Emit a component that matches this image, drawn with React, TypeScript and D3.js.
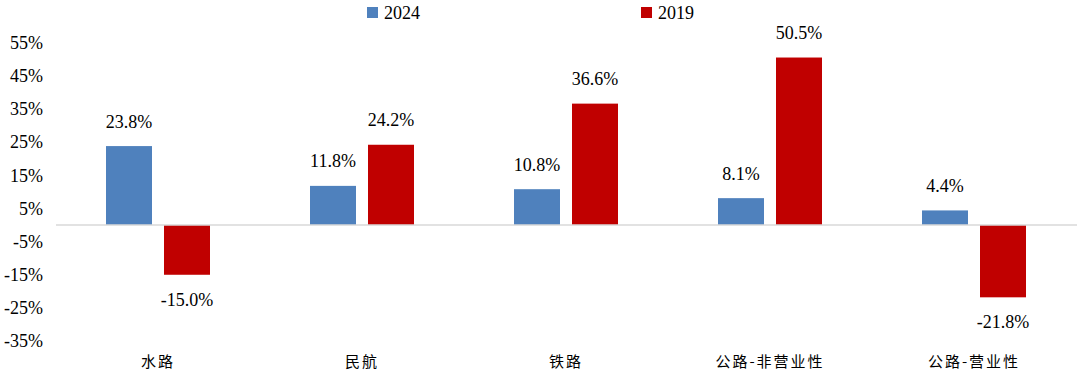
import React from "react";
import * as d3 from "d3";

const categories = ["水路", "民航", "铁路", "公路-非营业性", "公路-营业性"];
const series2024 = [23.8, 11.8, 10.8, 8.1, 4.4];
const series2019 = [-15.0, 24.2, 36.6, 50.5, -21.8];
const seriesNames = ["2024", "2019"];
const colors = ["#4F81BD", "#C00000"];
const yTicks = [55, 45, 35, 25, 15, 5, -5, -15, -25, -35];

const W = 1080;
const H = 375;

export default function App() {
  const x0 = d3.scaleBand<string>().domain(categories).range([56, 1076]).paddingInner(0).paddingOuter(0);
  const x1 = d3.scaleBand<string>().domain(seriesNames).range([50, 154]).paddingInner(12 / 58).paddingOuter(0);
  const y = d3.scaleLinear().domain([-35, 55]).range([341.1, 42.6]);
  const data = [series2024, series2019];
  const serifStyle = { fontFamily: '"Liberation Serif", serif' };
  const cjkStyle = { fontFamily: '"Noto Sans CJK SC", sans-serif' };

  return (
    <svg width={W} height={H} style={{ position: "absolute", left: 0, top: 0, background: "#fff" }}>
      {/* legend */}
      {seriesNames.map((s, i) => {
        const lx = i === 0 ? 367 : 641;
        return (
          <g key={s}>
            <rect x={lx} y={7} width={11} height={11} fill={colors[i]} />
            <text x={lx + 17} y={18.5} style={serifStyle} fontSize={18} fill="#000">{s}</text>
          </g>
        );
      })}
      {/* y tick labels */}
      {yTicks.map((t) => (
        <text key={t} x={43} y={y(t)} dy="0.35em" textAnchor="end" style={serifStyle} fontSize={18} fill="#000">
          {t}%
        </text>
      ))}
      {/* bars */}
      {categories.map((c, ci) => (
        <g key={c} transform={`translate(${x0(c)},0)`}>
          {seriesNames.map((s, si) => {
            const v = data[si][ci];
            const bx = x1(s)!;
            const top = y(Math.max(0, v));
            const bot = y(Math.min(0, v));
            const ly = v >= 0 ? top - 18.5 : bot + 31;
            return (
              <g key={s}>
                <rect x={bx} y={top} width={x1.bandwidth()} height={bot - top} fill={colors[si]} />
                <text x={bx + x1.bandwidth() / 2} y={ly} textAnchor="middle" style={serifStyle} fontSize={18} fill="#000">
                  {v.toFixed(1)}%
                </text>
              </g>
            );
          })}
        </g>
      ))}
      {/* zero line */}
      <line x1={56} x2={1077} y1={y(0)} y2={y(0)} stroke="#D9D9D9" strokeWidth={1.5} />
      {/* category labels */}
      {categories.map((c) => (
        <text key={c} x={x0(c)! + x0.bandwidth() / 2} y={367} textAnchor="middle" style={cjkStyle} fontSize={15} letterSpacing={2} fill="#000">
          {c}
        </text>
      ))}
    </svg>
  );
}
